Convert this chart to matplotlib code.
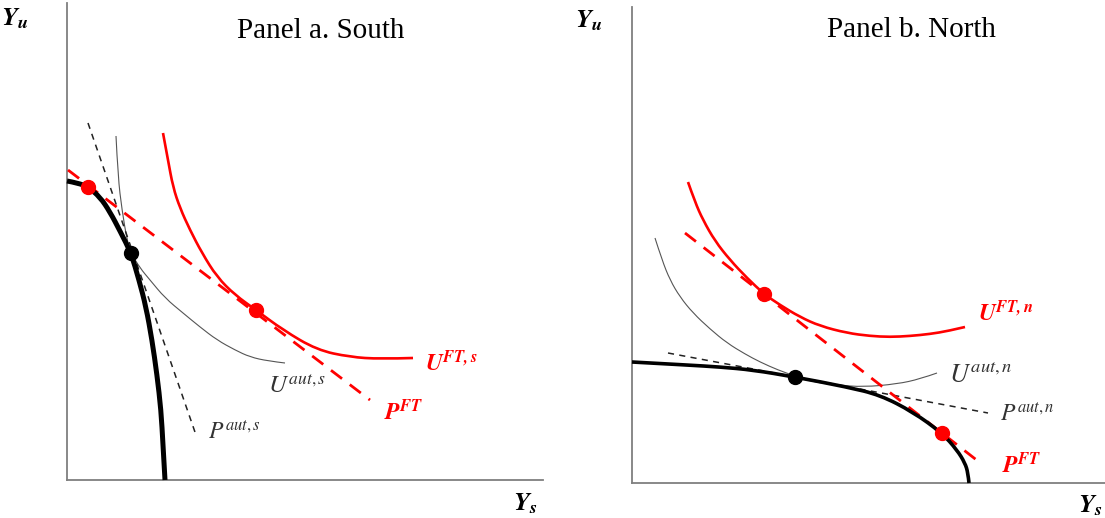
import numpy as np
import matplotlib as mpl
mpl.use("Agg")
import matplotlib.pyplot as plt
from matplotlib.path import Path
from matplotlib.patches import PathPatch

mpl.rcParams.update({
    "font.family": "Liberation Serif",
    "mathtext.fontset": "stix",
})

RED = "#ff0000"
AXISGRAY = "#7f7f7f"

# ---- Panel a (South): values, arbitrary units ----
frontierS_x = [0, 11, 21, 33, 43, 53, 64, 72, 79, 85, 90, 94, 96, 98]
frontierS_y = [299, 297, 293, 283, 268, 249, 227, 200, 173, 140, 105, 70, 35, 0]
uAutS_x = [49, 51, 55, 60, 64, 73, 83, 98, 116, 133, 150, 168, 183, 201, 218]
uAutS_y = [344, 303, 270, 240, 227, 212, 200, 182, 167, 153, 140, 130, 123, 119, 117]
uFtS_x = [96, 101, 106, 113, 123, 135, 150, 168, 189, 216, 250, 283, 313, 346]
uFtS_y = [347, 320, 293, 272, 250, 227, 203, 185, 170, 150, 130, 123, 121, 122]
pAutS_x = [21, 129]
pAutS_y = [357, 45]
pFtS_x = [1, 303]
pFtS_y = [310, 80]
autS_pt = (64, 227)
ftS_prod = (21, 293)
ftS_cons = (189, 170)

# ---- Panel b (North) ----
frontierN_x = [0, 55, 88, 121, 163, 215, 248, 281, 310, 325, 333, 336, 337]
frontierN_y = [121, 118, 116, 113, 106, 96, 88, 71, 50, 33, 20, 10, 0]
uAutN_x = [23, 30, 38, 48, 61, 78, 95, 113, 128, 146, 163, 181, 206, 231, 265, 288, 305]
uAutN_y = [245, 223, 203, 186, 170, 154, 140, 129, 121, 113, 107, 101, 98, 96, 99, 104, 110]
uFtN_x = [56, 63, 71, 83, 98, 115, 132, 148, 168, 188, 215, 238, 258, 278, 298, 316, 333]
uFtN_y = [301, 281, 263, 242, 223, 205, 189, 178, 166, 157, 150, 147, 146, 147, 149, 152, 156]
pAutN_x = [36, 356]
pAutN_y = [130, 70]
pFtN_x = [53, 351]
pFtN_y = [250, 18]
autN_pt = (163, 106)
ftN_prod = (310, 50)
ftN_cons = (132, 189)

fig = plt.figure(figsize=(11.05, 5.18), dpi=100)
W, H = 1105.0, 518.0


def makeAxes(x0, y0, w, h):
    ax = fig.add_axes([x0 / W, (H - y0) / H, w / W, h / H])
    ax.set_xlim(0, w)
    ax.set_ylim(0, h)
    for s in ["top", "right"]:
        ax.spines[s].set_visible(False)
    for s in ["left", "bottom"]:
        ax.spines[s].set_color(AXISGRAY)
        ax.spines[s].set_linewidth(1.3)
    ax.set_xticks([])
    ax.set_yticks([])
    ax.patch.set_alpha(0)
    return ax


def smoothCurve(ax, xs, ys, **kw):
    # quadratic bezier through the read-off points (points act as control points)
    pts = np.column_stack([xs, ys]).astype(float)
    verts = [pts[0]]
    codes = [Path.MOVETO]
    for i in range(1, len(pts) - 1):
        end = pts[i + 1] if i == len(pts) - 2 else (pts[i] + pts[i + 1]) / 2
        verts += [pts[i], end]
        codes += [Path.CURVE3, Path.CURVE3]
    if len(pts) == 2:
        verts.append(pts[1])
        codes.append(Path.LINETO)
    ax.add_patch(PathPatch(Path(verts, codes), fill=False, **kw))


def drawPanel(ax, fr, ua, uf, pa, pf, autPt, prodPt, consPt, frontierWidth):
    smoothCurve(ax, ua[0], ua[1], edgecolor="#555555", lw=0.8, zorder=2)
    smoothCurve(ax, uf[0], uf[1], edgecolor=RED, lw=1.9, zorder=3)
    ax.plot(pa[0], pa[1], color="#222222", lw=1.1, dashes=(4, 3.5), zorder=2)
    ax.plot(pf[0], pf[1], color=RED, lw=2.0, dashes=(5, 3.5), zorder=3)
    smoothCurve(ax, fr[0], fr[1], edgecolor="black", lw=frontierWidth, zorder=4,
                capstyle="butt", clip_on=False)
    ax.plot(*autPt, "o", color="black", ms=10, zorder=5)
    ax.plot(*prodPt, "o", color=RED, ms=10, zorder=5)
    ax.plot(*consPt, "o", color=RED, ms=10, zorder=5)


# Panel a
axA = makeAxes(67, 480, 476, 477)
drawPanel(axA, (frontierS_x, frontierS_y), (uAutS_x, uAutS_y), (uFtS_x, uFtS_y),
          (pAutS_x, pAutS_y), (pFtS_x, pFtS_y), autS_pt, ftS_prod, ftS_cons, 3.6)
axA.text(358, 117, r"$\mathbfit{U}^{\mathbfit{FT,s}}$", color=RED, fontsize=17, va="center")
axA.text(201, 94, r"$U^{aut,s}$", color="#333333", fontsize=18, va="center")
axA.text(141, 48, r"$P^{aut,s}$", color="#333333", fontsize=17, va="center")
axA.text(317, 68, r"$\mathbfit{P}^{\mathbfit{FT}}$", color=RED, fontsize=17, va="center")
fig.text(321 / W, 1 - 31 / H, "Panel a. South", fontsize=21, ha="center", va="center")

# Panel b
axB = makeAxes(632, 483, 473, 476)
drawPanel(axB, (frontierN_x, frontierN_y), (uAutN_x, uAutN_y), (uFtN_x, uFtN_y),
          (pAutN_x, pAutN_y), (pFtN_x, pFtN_y), autN_pt, ftN_prod, ftN_cons, 2.6)
axB.text(346, 170, r"$\mathbfit{U}^{\mathbfit{FT,n}}$", color=RED, fontsize=17, va="center")
axB.text(317, 107, r"$U^{aut,n}$", color="#333333", fontsize=19, va="center")
axB.text(368, 69, r"$P^{aut,n}$", color="#333333", fontsize=17, va="center")
axB.text(370, 18, r"$\mathbfit{P}^{\mathbfit{FT}}$", color=RED, fontsize=17, va="center")
fig.text(911 / W, 1 - 30 / H, "Panel b. North", fontsize=21, ha="center", va="center")

# axis names
for (px, py) in [(15, 19), (589, 21)]:
    fig.text(px / W, 1 - py / H, r"$\mathbfit{Y}_{\mathbfit{u}}$", fontsize=19,
             ha="center", va="center")
for (px, py) in [(525, 504), (1090, 506)]:
    fig.text(px / W, 1 - py / H, r"$\mathbfit{Y}_{\mathbfit{s}}$", fontsize=19,
             ha="center", va="center")

fig.savefig("out.png", dpi=100)
